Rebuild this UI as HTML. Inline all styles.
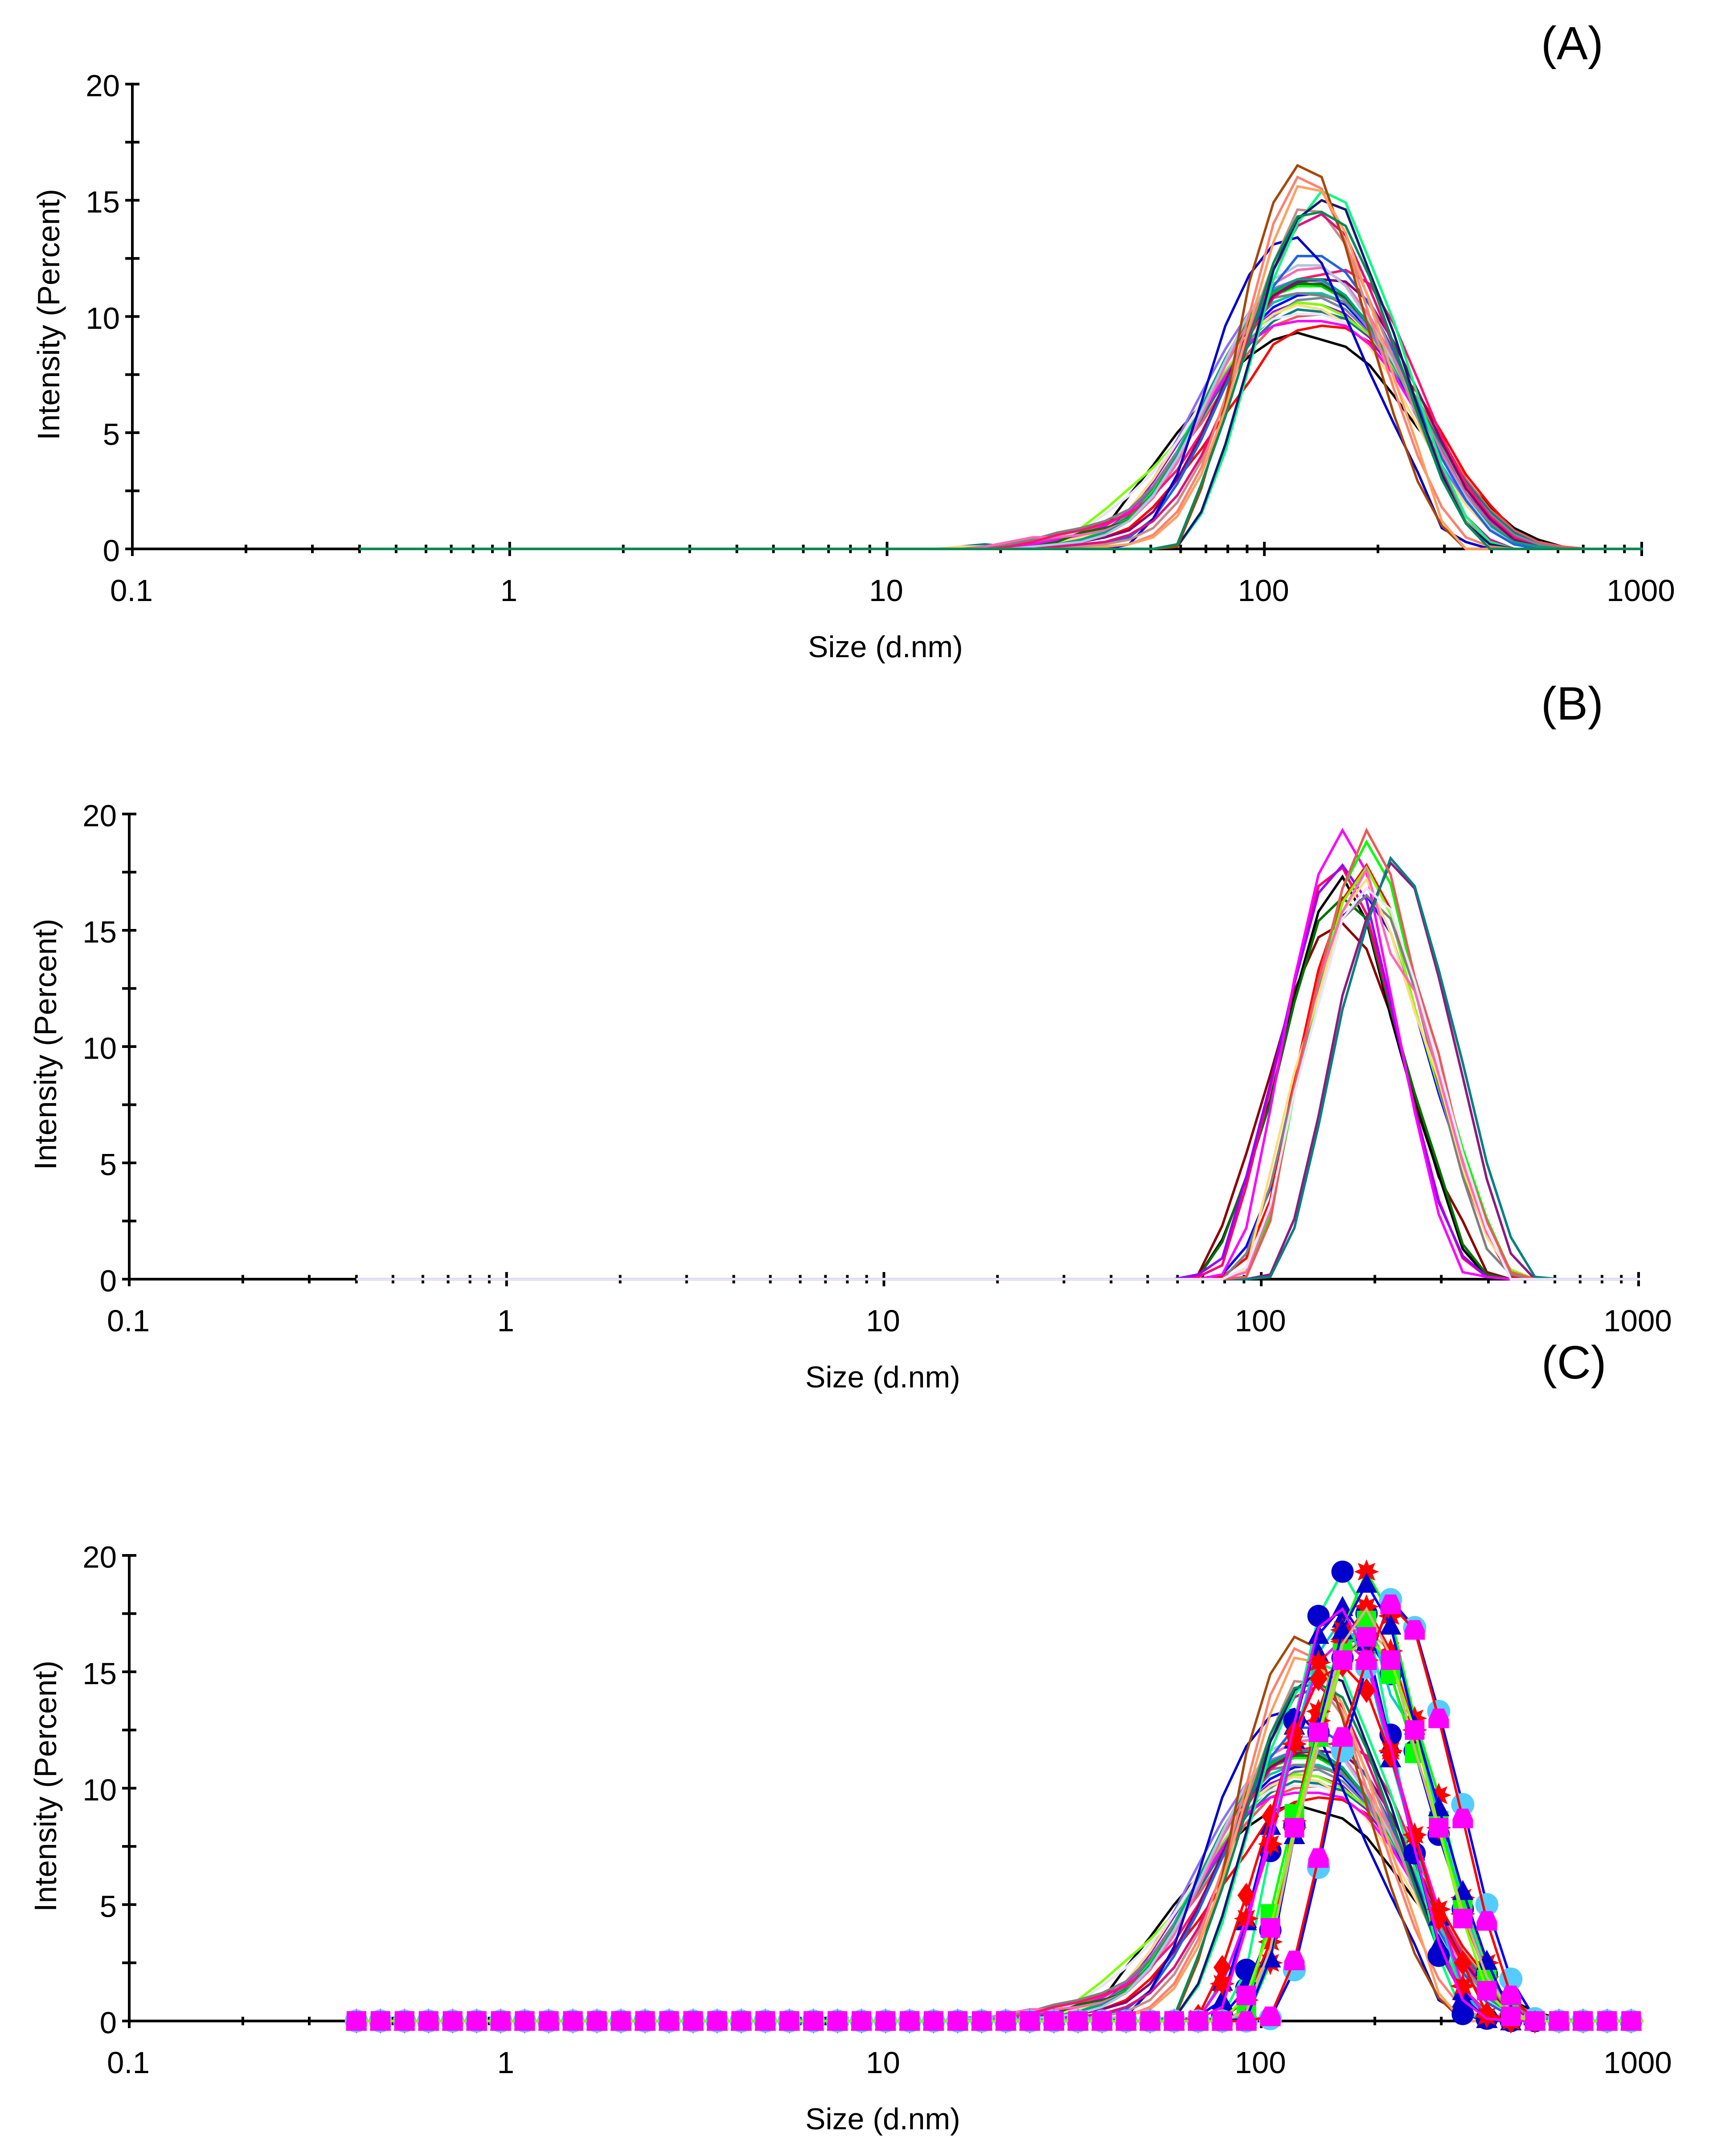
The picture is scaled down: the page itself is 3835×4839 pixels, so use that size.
<!DOCTYPE html>
<html lang="en">
<head>
<meta charset="utf-8">
<title>Intensity size distributions</title>
<style>
html,body{margin:0;padding:0;background:#fff;}
svg{display:block;}
text{font-family:"Liberation Sans",Arial,sans-serif;fill:#000;}
.tick{font-size:69px;}
.title{font-size:68px;}
.ytitle{font-size:69.5px;}
.tag{font-size:105px;}
</style>
</head>
<body>
<svg id="chart" xmlns="http://www.w3.org/2000/svg" width="3835" height="4839" viewBox="0 0 3835 4839">
  <rect x="0" y="0" width="3835" height="4839" fill="#ffffff"/>
  <defs>
    <clipPath id="clip-a"><rect x="0" y="0" width="3687" height="1300"/></clipPath>
    <clipPath id="clip-b"><rect x="0" y="1700" width="3680" height="1200"/></clipPath>
    <clipPath id="clip-c"><rect x="0" y="3400" width="3687" height="1200"/></clipPath>
  </defs>

  <g id="panel-a">
    <text class="tag" x="3458" y="133">(A)</text>
    <text class="title" x="1987" y="1475" text-anchor="middle">Size (d.nm)</text>
    <text class="ytitle" transform="translate(133 424) rotate(-90)" text-anchor="end">Intensity (Percent)</text>
  </g>
  <g id="panel-b">
    <text class="tag" x="3458" y="1615">(B)</text>
    <text class="title" x="1981" y="3114" text-anchor="middle">Size (d.nm)</text>
    <text class="ytitle" transform="translate(126 2062) rotate(-90)" text-anchor="end">Intensity (Percent)</text>
  </g>
  <g id="panel-c">
    <text class="tag" x="3459" y="3094">(C)</text>
    <text class="title" x="1981" y="4779" text-anchor="middle">Size (d.nm)</text>
    <text class="ytitle" transform="translate(126 3727) rotate(-90)" text-anchor="end">Intensity (Percent)</text>
  </g>
</svg>

<script>
// Size bins (d.nm)
const binSizes = [0.4,0.4632,0.5365,0.6213,0.7195,0.8332,0.9649,1.117,1.294,1.499,1.736,2.01,2.328,2.696,3.122,3.615,4.187,4.849,5.615,6.503,7.531,8.721,10.1,11.7,13.54,15.69,18.17,21.04,24.36,28.21,32.67,37.84,43.82,50.75,58.77,68.06,78.82,91.28,105.7,122.4,141.8,164.2,190.1,220.2,255,295.3,342,396.1,458.7,531.2,615.1,712.4,825,955.4,1106];

// Axis tick values and labels
const xMajorTicks = [0.1,1,10,100,1000];
const xTickLabels = ['0.1','1','10','100','1000'];
const xMinorMultipliers = [2,3,4,5,6,7,8,9];
const yMajorTicks = [0,5,10,15,20];
const yTickLabels = ['0','5','10','15','20'];
const yMinorTicks = [2.5,7.5,12.5,17.5];

// Panel A intensities: first value is bin 25 (15.69 nm), bins outside the list read 0
const panelAFirstBin = 25;
const aBlack = [0,0,0,0,.1,.4,.9,2.3,3.6,5,6.2,7.4,8.3,9,9.3,9,8.7,7.9,6.6,5.2,4,2.9,1.8,.9,.4,.1,0];
const aRed = [0,0,0,0,.1,.3,.5,.9,1.8,3,4.3,5.8,7.2,8.8,9.4,9.6,9.5,8.9,7.9,6.7,5,3.2,1.9,.8,.3,.1,0];
const aCoral = [0,0,.1,.2,.4,.7,1,1.6,2.7,4.1,5.4,7,8.5,9.6,10,10.1,9.9,9.2,8,6.4,4.7,3,1.7,.8,.3,.1,0];
const aTeal = [.1,.2,.1,.1,.2,.4,.8,1.4,2.6,4,5.6,7.3,8.8,9.8,10.3,10.2,9.9,9.1,7.7,6.2,4.5,2.9,1.6,.7,.2,0,0];
const aSlate = [0,0,.2,.3,.5,.6,.9,1.5,2.7,4.2,5.8,7.5,9,10,10.7,10.8,10.3,9.3,7.8,6,4.3,2.7,1.5,.6,.2,0,0];
const aViolet = [0,0,0,.1,.3,.5,.9,1.6,2.9,4.5,6.2,7.9,9.3,10.2,10.6,10.5,10.1,9.1,7.6,5.8,4,2.4,1.2,.5,.1,0,0];
const aBlue = [0,0,0,0,.1,.3,.7,1.3,2.5,4.1,6,7.9,9.4,10.4,10.9,11,10.5,9.4,7.8,5.9,4,2.4,1.2,.4,.1,0,0];
const aChartreuse = [0,0,.1,.2,.4,.9,1.7,2.6,3.5,4.6,6,7.7,9.2,10.1,10.6,10.5,10,9.2,7.8,6.1,4.2,2.4,1.2,.4,.1,0,0];
const aAqua = [0,0,0,.1,.2,.4,.7,1.2,2.4,4.2,6.2,8,9.6,10.6,11,11,10.6,9.5,7.9,5.9,4,2.3,1.1,.4,.1,0,0];
const aLime = [0,0,0,.1,.3,.5,.8,1.3,2.5,4,5.9,8,9.7,10.9,11.3,11.3,10.7,9.6,8.1,6.2,4.2,2.4,1.1,.4,.1,0,0];
const aGreen = [0,0,0,.1,.3,.4,.7,1.3,2.4,4.1,6.1,8.1,9.9,11,11.5,11.3,10.8,9.7,8,6,4,2.2,1,.3,.1,0,0];
const aPurple = [0,0,.1,.2,.3,.6,1,1.7,3,4.7,6.7,8.6,10.2,11.2,11.6,11.5,10.7,9.4,7.6,5.6,3.6,2,.9,.3,0,0,0];
const aGold = [.1,.1,.2,.2,.3,.5,.9,1.7,3,4.6,6.3,8,9.3,10.1,10.5,10.3,9.7,8.7,7.2,5.3,3.4,1.9,.8,.2,0,0,0];
const aLavender = [0,0,.1,.2,.4,.8,1.5,2.3,3.3,4.6,6.2,7.8,9.2,9.9,10.1,10.1,9.7,8.8,7.4,5.7,3.9,2.2,1,.3,.1,0,0];
const aMagenta = [0,0,0,.2,.4,.6,1,1.6,2.7,4.1,5.8,7.4,8.9,9.6,9.8,9.8,9.6,8.8,7.5,5.8,4,2.4,1.2,.5,.1,0,0];
const aGray = [0,0,.2,.4,.7,.9,1.2,1.7,2.7,4.1,5.9,7.9,9.7,10.8,11,10.9,10.6,9.8,8.3,6.3,4.2,2.4,1.1,.4,.1,0,0];
const aDarkGreen = [0,0,0,.1,.3,.7,.9,1.2,2.2,3.8,5.8,8,9.8,10.9,11.4,11.4,10.8,9.6,8,6.1,4.1,2.3,1,.3,.1,0,0];
const aHotPink = [0,.1,.3,.5,.5,.6,.8,1.2,2.2,3.7,5.7,7.9,10,11.4,12,12.1,11.4,10,8.2,6.2,4.1,2.3,1,.3,0,0,0];
const aDeepPink = [0,0,.1,.3,.6,.8,1.1,1.5,2.3,3.4,5,7,9.2,10.8,11.6,11.8,12,11.4,9.7,7.3,4.8,2.8,1.4,.5,.1,0,0];
const aDarkMagenta = [0,0,0,.1,.2,.3,.5,.8,1.6,3,4.9,7.2,9.4,10.9,11.5,11.6,11.5,10.6,8.9,6.8,4.6,2.6,1.3,.4,.1,0,0];
const aJade = [0,0,0,.1,.2,.4,.7,1.2,2.4,4,6.1,8.2,10,11.1,11.6,11.6,10.9,9.6,7.9,5.9,3.9,2.2,1,.3,.1,0,0];
const aSteel = [0,0,0,.1,.2,.3,.6,1.2,2.3,3.9,5.9,8.1,10.2,11.6,12.2,12.2,11.3,9.8,8,6,3.9,2.2,.9,.2,0,0,0];
const aRoyal = [0,0,0,0,0,.1,.2,.5,1.3,2.8,4.7,7,9.3,11.3,12.6,12.6,11.9,10.5,8.5,6.2,3.9,2.1,.8,.2,0,0,0];
const aDarkBlue = [0,0,0,0,0,0,0,.2,1.3,3.2,6.3,9.6,11.8,13.1,13.4,12.3,10,7.6,5.4,3.3,.9,.3,0,0,0,0,0];
const aRosy = [0,0,0,0,0,.1,.2,.4,.9,2,3.8,6.4,9.4,12.3,14.6,14.5,13.1,10.7,8.2,5.6,3.1,1.2,.3,0,0,0,0];
const aCrimson = [0,0,0,0,.1,.2,.3,.6,1.2,2.3,4,6.3,9.2,12,13.9,14.4,13.5,11.2,8.7,6,3.4,1.4,.4,0,0,0,0];
const aSpring = [0,0,0,0,0,0,0,0,0,.1,1.5,4.2,7.9,11.6,14,15.4,14.9,12.4,9.8,6.6,3.6,1.4,.3,0,0,0,0];
const aNavy = [0,0,0,0,0,0,0,0,0,.1,1.6,4.5,8.1,12,14.2,15,14.6,11.9,9.3,6.1,3.2,1.1,.2,0,0,0,0];
const aSalmon = [0,0,0,0,0,0,.1,.2,.6,1.6,3.5,6.5,10.1,14,16,15.5,13.2,10,6.9,4,1.8,.5,.1,0,0,0,0];
const aBrown = [0,0,0,0,0,0,0,0,0,.1,2.6,6.2,11.5,14.9,16.5,16,13,9.3,5.8,2.9,1,0,0,0,0,0,0];
const aSandy = [0,0,0,0,0,0,.1,.2,.5,1.4,3.2,6,9.6,13.2,15.6,15.4,13.6,10.6,7.4,4.4,1.2,0,0,0,0,0,0];
const aSeaGreen = [0,0,0,0,0,0,0,0,0,.2,2.8,5.7,9,12.3,14.3,14.5,13.9,11.7,8.8,5.8,3,1.1,0,0,0,0,0];
const panelASeries = [aBlack,aRed,aCoral,aTeal,aSlate,aViolet,aBlue,aChartreuse,aAqua,aLime,aGreen,aPurple,aGold,aLavender,aMagenta,aGray,aDarkGreen,aHotPink,aDeepPink,aDarkMagenta,aJade,aSteel,aRoyal,aDarkBlue,aRosy,aCrimson,aSpring,aNavy,aSalmon,aBrown,aSandy,aSeaGreen];
const panelAColors = ['#000000','#ff0000','#eb5a5a','#008080','#778899','#9b00ff','#0000ff','#7fff00','#00c8a8','#00ff00','#00c000','#8b6fef','#ffdc82','#e6e6fa','#ff00ff','#808080','#007000','#ff69b4','#ff1470','#8b0070','#00a080','#b0c4de','#1e64e0','#0000cd','#c48c88','#e0107f','#00ff7f','#191970','#ff8070','#a5480a','#ffa060','#008b57'];

// Panel B intensities: first value is bin 34 (58.77 nm), bins outside the list read 0
const panelBFirstBin = 34;
const bDarkRed = [0,.2,2.3,5.4,8.8,12.4,14.7,15.3,14.2,11.4,7.9,4.4,2.5,.3,0,0,0];
const bBlack = [0,.1,1.7,4.3,7.7,12.1,15.8,17.3,15.4,11.3,7.6,4.5,1.3,.1,0,0,0];
const bDarkGreen = [0,.1,1.6,4.4,7.6,11.9,15.4,16.4,15.5,11.6,8,4.8,1.5,.2,0,0,0];
const bBlue = [0,0,.2,1.4,3.9,8.4,12.4,15.6,16.5,14.9,11.6,8,4.8,2,.2,0,0];
const bRed = [0,0,.1,.9,3.4,8.6,13.3,16.3,17.8,15.9,12.5,8.3,4.6,1.9,.1,0,0];
const bDeepPink = [0,.1,.6,4,8.2,12.8,16.9,17.7,15.7,11.8,7.4,3.4,.9,.1,0,0,0];
const bViolet = [0,.2,.9,4.4,8.4,12.7,16.6,17.8,16.3,11.9,7.3,3.3,1,.1,0,0,0];
const bMagenta = [0,0,.2,2.2,7.3,12.9,17.4,19.3,17.5,12.3,7.2,2.8,.3,.1,0,0,0];
const bChartreuse = [0,0,0,.4,3.1,8,12.3,16.2,17.7,15.7,11.7,8.2,4.7,1.9,.4,0,0];
const bLime = [0,0,0,.1,2.7,8,12.6,16.8,18.8,17,12.7,9.2,5.6,2.6,.3,0,0];
const bGray = [0,0,0,1.1,4,8.3,12.4,15.5,16.5,15.5,12.5,8.3,4.4,1.3,.2,0,0];
const bGold = [0,0,0,.4,4.6,8.9,12.2,15.8,17.2,14.9,11.5,8.6,4.8,1.8,.3,0,0];
const bHotPink = [0,0,0,.3,3,8.2,12.8,15.8,17.6,14,12.4,8.8,5,2,.3,0,0];
const bDarkMagenta = [0,0,0,0,.2,2.6,7,12.2,15.5,17.9,16.8,13,8.7,4.3,1.1,0,0];
const bTeal = [0,0,0,0,.1,2.2,6.6,11.6,15.2,18.1,16.9,13.3,9.3,5,1.8,.1,0];
const bCoral = [0,0,0,.1,2.5,8.3,12.9,16.8,19.3,17.4,13,9.7,5.3,2.5,.3,0,0];
const bLavender = [0,0,0,.5,3.2,8,11.8,15.5,16.8,15.9,12.8,9.2,5.4,2.2,0,0,0];
const panelBSeries = [bDarkRed,bBlack,bDarkGreen,bBlue,bRed,bDeepPink,bViolet,bMagenta,bChartreuse,bLime,bGray,bGold,bHotPink,bDarkMagenta,bTeal,bCoral,bLavender];
const panelBColors = ['#8b0000','#000000','#007000','#0000ff','#ff0000','#ff0070','#9b00ff','#ff00ff','#7fff00','#00ff00','#808080','#ffdc82','#ff69b4','#8f1a80','#008080','#eb5a5a','#e6e6fa'];

// Panel C overlays the panel A curves with the panel B curves drawn with markers
const panelCSeries = [bLavender,bBlue,bMagenta,bBlack,bViolet,bDarkGreen,bRed,bCoral,bDarkRed,bTeal,bHotPink,bGold,bLime,bDeepPink,bChartreuse,bDarkMagenta,bGray];
const panelCColors = ['#d8b080','#0000ff','#00ff7f','#00cccc','#0000ff','#ff00ff','#ff0000','#00ff00','#ff0000','#0000ff','#00cccc','#00ff00','#0000ff','#ff00ff','#d8b080','#ff0000','#7fff00'];
const panelCMarkerKinds = ['none','circle','circle','triangle','triangle','star','star','star','diamond','hex','none','greensquare','triangle','none','none','trapezoid','square'];

const SVG_NS = 'http://www.w3.org/2000/svg';
const panels = [
  {id:'panel-a', clip:'clip-a', x0:297, y0:1232, y20:188.7, decade:846.75},
  {id:'panel-b', clip:'clip-b', x0:290, y0:2871, y20:1827, decade:846.75},
  {id:'panel-c', clip:'clip-c', x0:290, y0:4536, y20:3491, decade:846.75}
];

function xScale(p, size){ return p.x0 + p.decade * (Math.log10(size) + 1); }
function yScale(p, value){ return p.y0 - value * (p.y0 - p.y20) / 20; }
function valueAt(series, firstBin, i){
  const v = series[i - firstBin];
  return v === undefined ? 0 : v;
}

function drawLine(parent, x1, y1, x2, y2, width){
  const el = document.createElementNS(SVG_NS, 'line');
  
  
  el.setAttribute('x1', x1);
  el.setAttribute('y1', y1);
  el.setAttribute('x2', x2);
  el.setAttribute('y2', y2);
  el.setAttribute('stroke', '#000');
  el.setAttribute('stroke-width', width);
  parent.appendChild(el);
}

function drawLabel(parent, x, y, anchor, content){
  const el = document.createElementNS(SVG_NS, 'text');
  
  
  el.setAttribute('class', 'tick');
  el.setAttribute('x', x);
  el.setAttribute('y', y);
  el.setAttribute('text-anchor', anchor);
  el.textContent = content;
  parent.appendChild(el);
}

function drawAxes(p, g){
  drawLine(g, p.x0, p.y20 - 3, p.x0, p.y0 + 16, 6);
  drawLine(g, p.x0 - 16, p.y0, xScale(p, 1000) + 3, p.y0, 6);
  yMajorTicks.forEach(function(v, i){
    drawLine(g, p.x0 - 16, yScale(p, v), p.x0 + 16, yScale(p, v), 6);
    drawLabel(g, p.x0 - 28, yScale(p, v) + 27.5, 'end', yTickLabels[i]);
  });
  yMinorTicks.forEach(function(v){
    drawLine(g, p.x0 - 16, yScale(p, v), p.x0 + 16, yScale(p, v), 6);
  });
  xMajorTicks.forEach(function(s, i){
    drawLine(g, xScale(p, s), p.y0 - 16, xScale(p, s), p.y0 + 16, 6);
    drawLabel(g, xScale(p, s) - 2, p.y0 + 117, 'middle', xTickLabels[i]);
    if (s < 1000) {
      xMinorMultipliers.forEach(function(m){
        drawLine(g, xScale(p, s * m), p.y0 - 9.5, xScale(p, s * m), p.y0 + 9.5, 6);
      });
    }
  });
}

function drawCurve(p, g, series, firstBin, color){
  const pts = binSizes.map(function(s, i){
    return xScale(p, s).toFixed(1) + ',' + yScale(p, valueAt(series, firstBin, i)).toFixed(1);
  }).join(' ');
  const el = document.createElementNS(SVG_NS, 'polyline');
  
  
  el.setAttribute('points', pts);
  el.setAttribute('fill', 'none');
  el.setAttribute('stroke', color);
  el.setAttribute('stroke-width', '5.5');
  el.setAttribute('stroke-linejoin', 'miter');
  el.setAttribute('clip-path', 'url(#' + p.clip + ')');
  g.appendChild(el);
}

function starPoints(cx, cy, outer, inner, tips){
  const out = [];
  for (let k = 0; k < tips * 2; k++) {
    const r = k % 2 === 0 ? outer : inner;
    const a = Math.PI * k / tips - Math.PI / 2;
    out.push((cx + r * Math.cos(a)).toFixed(1) + ',' + (cy + r * Math.sin(a)).toFixed(1));
  }
  return out.join(' ');
}

function drawMarker(g, kind, cx, cy){
  let el;
  if (kind === 'square' || kind === 'greensquare') {
    el = document.createElementNS(SVG_NS, 'rect');
    el.setAttribute('x', cx - 22);
    el.setAttribute('y', cy - 22);
    el.setAttribute('width', 44);
    el.setAttribute('height', 44);
    el.setAttribute('fill', kind === 'square' ? '#ff00ff' : '#00ff00');
  } else if (kind === 'circle' || kind === 'hex') {
    el = document.createElementNS(SVG_NS, 'circle');
    el.setAttribute('cx', cx);
    el.setAttribute('cy', cy);
    el.setAttribute('r', kind === 'circle' ? 25 : 26);
    el.setAttribute('fill', kind === 'circle' ? '#0000cd' : '#55ccff');
  } else {
    el = document.createElementNS(SVG_NS, 'polygon');
    if (kind === 'star') {
      el.setAttribute('points', starPoints(cx, cy, 28, 15, 8));
      el.setAttribute('fill', '#ff0000');
    } else if (kind === 'diamond') {
      el.setAttribute('points', starPoints(cx, cy, 28, 19.8, 2));
      el.setAttribute('fill', '#ff0000');
    } else if (kind === 'trapezoid') {
      const corners = [(cx - 12) + ',' + (cy - 22), (cx + 12) + ',' + (cy - 22), (cx + 23) + ',' + (cy + 2), (cx + 23) + ',' + (cy + 22), (cx - 23) + ',' + (cy + 22), (cx - 23) + ',' + (cy + 2)];
      el.setAttribute('points', corners.join(' '));
      el.setAttribute('fill', '#ff00ff');
    } else {
      const left = (cx - 24) + ',' + (cy + 21);
      const right = (cx + 24) + ',' + (cy + 21);
      const top = cx + ',' + (cy - 24);
      el.setAttribute('points', top + ' ' + right + ' ' + left);
      el.setAttribute('fill', '#0000cd');
    }
  }
  
  
  g.appendChild(el);
}

panels.forEach(function(p){ drawAxes(p, document.getElementById(p.id)); });

const groupA = document.getElementById('panel-a');
panelASeries.forEach(function(s, i){ drawCurve(panels[0], groupA, s, panelAFirstBin, panelAColors[i]); });

const groupB = document.getElementById('panel-b');
panelBSeries.forEach(function(s, i){ drawCurve(panels[1], groupB, s, panelBFirstBin, panelBColors[i]); });

const groupC = document.getElementById('panel-c');
panelASeries.forEach(function(s, i){ drawCurve(panels[2], groupC, s, panelAFirstBin, panelAColors[i]); });
panelCSeries.forEach(function(s, i){
  drawCurve(panels[2], groupC, s, panelBFirstBin, panelCColors[i]);
  const kind = panelCMarkerKinds[i];
  if (kind === 'none') { return; }
  binSizes.forEach(function(size, b){
    if (size < 1000) {
      drawMarker(groupC, kind, xScale(panels[2], size), yScale(panels[2], valueAt(s, panelBFirstBin, b)));
    }
  });
});
</script>
</body>
</html>
